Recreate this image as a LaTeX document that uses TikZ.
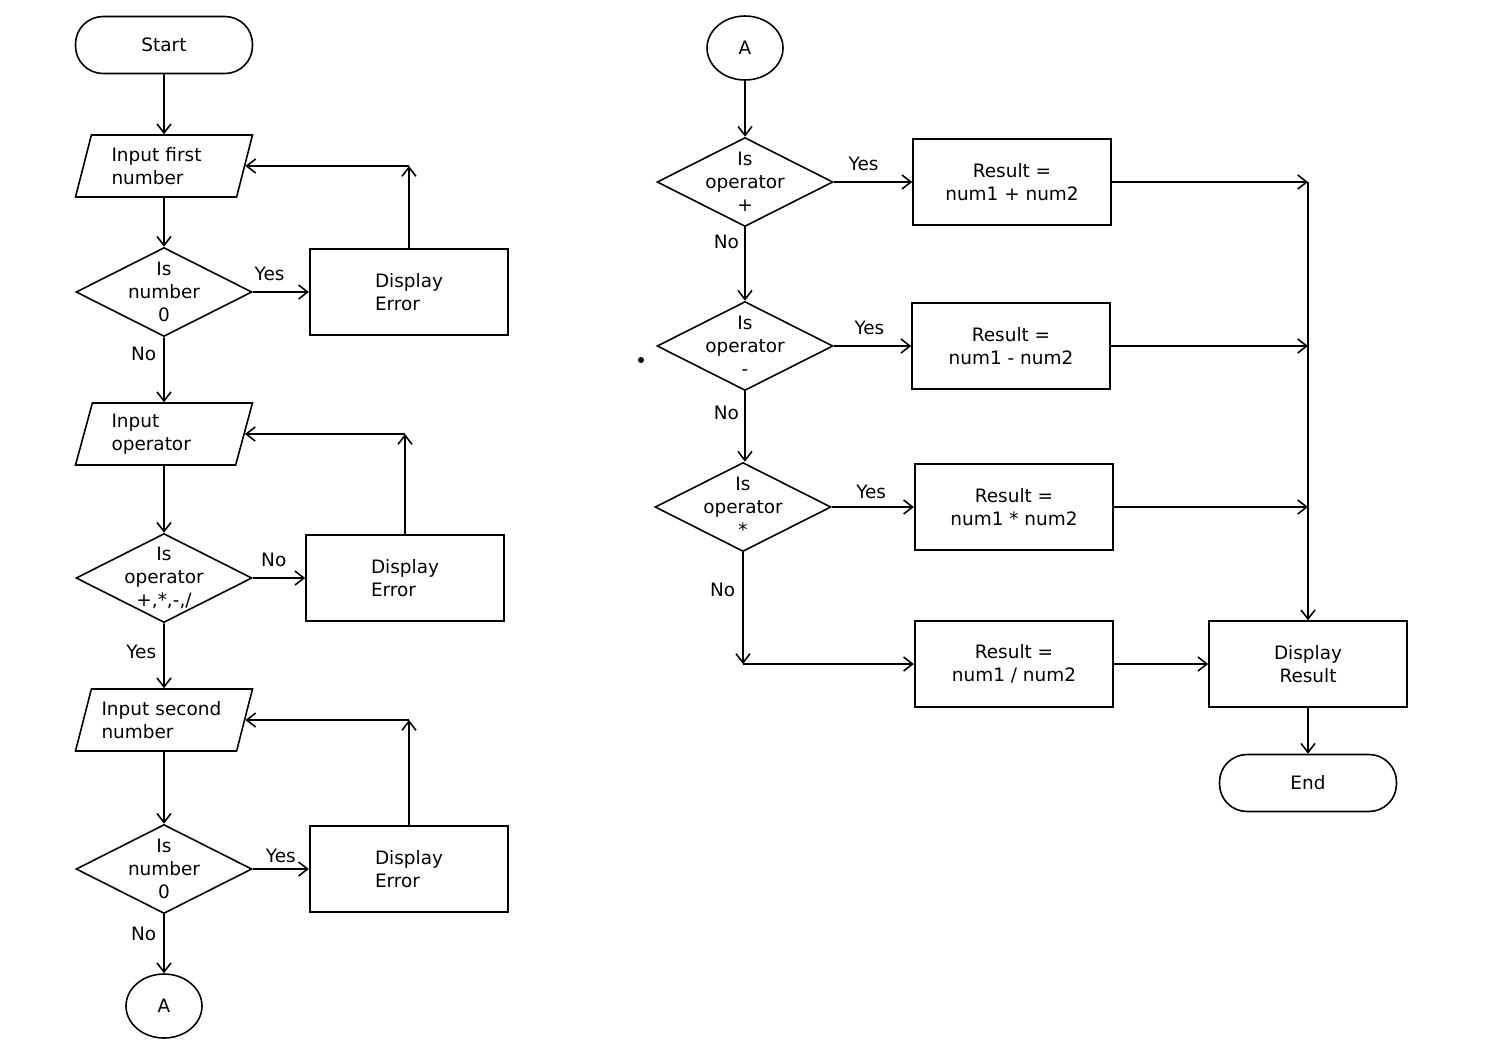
\documentclass[tikz,border=0pt]{standalone}
\usepackage{fontspec}
\setmainfont{DejaVu Sans}
\usetikzlibrary{shapes.geometric, arrows.meta}
\tikzstyle{chart} = [x = 0.02cm, y = -0.02cm]
\tikzstyle{flowText} = [font=\fontsize{10.5}{13}\selectfont]
\tikzstyle{terminalStyle} = [draw, line width=0.9pt, rectangle, rounded corners=.55cm, minimum width=3.54cm, minimum height=1.14cm, flowText]
\tikzstyle{connectorStyle} = [draw, line width=0.9pt, ellipse, minimum width=1.52cm, minimum height=1.28cm, flowText]
\tikzstyle{ioStyle} = [draw, line width=0.9pt, trapezium, trapezium left angle=72, trapezium right angle=108, trapezium stretches body, minimum width=3.54cm, minimum height=1.24cm, text width=2.5cm, align=left, flowText]
\tikzstyle{decisionStyle} = [draw, line width=0.9pt, diamond, minimum width=3.52cm, minimum height=1.78cm, inner sep=0pt]
\tikzstyle{processStyle} = [draw, line width=0.9pt, rectangle, minimum width=3.96cm, minimum height=1.72cm, align=center, flowText]
\tikzstyle{boldProcess} = [processStyle, line width=1.3pt]
\tikzstyle{flowLine} = [draw, line width=0.9pt]
\tikzstyle{flowArrow} = [flowLine, -{Straight Barb[length=1.8mm, width=2.8mm]}]
\tikzstyle{flowLabel} = [flowText, inner sep=1pt]
\newcommand{\decisionNode}[3]{\node [decisionStyle, label={[flowText, align=center]center:{#3}}] (#1) at (#2) {};}
\newcommand{\backLoop}[3]{
  \coordinate (#3) at (#1.north |- #2.east);
  \draw [flowArrow] (#1.north) -- (#3);
  \draw [flowArrow] (#3) -- (#2.east);
}
\begin{document}
\begin{tikzpicture}[chart]
\useasboundingbox (0,0) rectangle (1500,1063);
% left column: reading the input
\node [terminalStyle] (startNode) at (164,45) {Start};
\node [ioStyle] (inputFirst) at (164,166) {\hspace{.2cm}Input first\\\hspace{.2cm}number};
\decisionNode{isZeroOne}{164,292}{Is\\number\\0}
\node [boldProcess, align=left] (errorOne) at (409,292) {Display\\Error};
\node [ioStyle] (inputOperator) at (164,434) {\hspace{.2cm}Input\\\hspace{.2cm}operator};
\decisionNode{isValidOp}{164,578}{Is\\operator\\+,*,-,/}
\node [processStyle, align=left] (errorTwo) at (405,578) {Display\\Error};
\node [ioStyle] (inputSecond) at (164,720) {Input second\\number};
\decisionNode{isZeroTwo}{164,869}{Is\\number\\0}
\node [boldProcess, align=left] (errorThree) at (409,869) {Display\\Error};
\node [connectorStyle] (jumpOut) at (164,1006) {A};

\draw [flowArrow] (startNode) -- (inputFirst);
\draw [flowArrow] (inputFirst) -- (isZeroOne);
\draw [flowArrow] (isZeroOne.east) -- node [flowLabel, pos=.3, above=5pt] {Yes} (errorOne.west);
\backLoop{errorOne}{inputFirst}{turnOne}
\draw [flowArrow] (isZeroOne.south) -- node [flowLabel, pos=.26, left=3pt] {No} (inputOperator.north);
\draw [flowArrow] (inputOperator) -- (isValidOp);
\draw [flowArrow] (isValidOp.east) -- node [flowLabel, pos=.4, above=5pt] {No} (errorTwo.west);
\backLoop{errorTwo}{inputOperator}{turnTwo}
\draw [flowArrow] (isValidOp.south) -- node [flowLabel, pos=.44, left=3pt] {Yes} (inputSecond.north);
\draw [flowArrow] (inputSecond) -- (isZeroTwo);
\draw [flowArrow] (isZeroTwo.east) -- node [flowLabel, pos=.5, above=2pt] {Yes} (errorThree.west);
\backLoop{errorThree}{inputSecond}{turnThree}
\draw [flowArrow] (isZeroTwo.south) -- node [flowLabel, pos=.34, left=3pt] {No} (jumpOut.north);

% right column: choosing the operation
\node [connectorStyle] (jumpIn) at (745,48) {A};
\decisionNode{isPlus}{745,182}{Is\\operator\\+}
\node [processStyle] (resultPlus) at (1012,182) {Result =\\num1 + num2};
\decisionNode{isMinus}{745,346}{Is\\operator\\-}
\node [processStyle] (resultMinus) at (1011,346) {Result =\\num1 - num2};
\decisionNode{isTimes}{743,507}{Is\\operator\\*}
\node [boldProcess] (resultTimes) at (1014,507) {Result =\\num1 * num2};
\node [boldProcess] (resultDivide) at (1014,664) {Result =\\num1 / num2};
\node [processStyle] (displayResult) at (1308,664) {Display\\Result};
\node [terminalStyle] (endNode) at (1308,783) {End};

\draw [flowArrow] (jumpIn) -- (isPlus);
\draw [flowArrow] (isPlus.east) -- node [flowLabel, pos=.38, above=5pt] {Yes} (resultPlus.west);
\draw [flowArrow] (isPlus.south) -- node [flowLabel, pos=.2, left=2pt] {No} (isMinus.north);
\draw [flowArrow] (isMinus.east) -- node [flowLabel, pos=.46, above=5pt] {Yes} (resultMinus.west);
\draw [flowArrow] (isMinus.south) -- node [flowLabel, pos=.3, left=2pt] {No} (isTimes.north -| isMinus.south);
\draw [flowArrow] (isTimes.east) -- node [flowLabel, pos=.48, above=3pt] {Yes} (resultTimes.west);
\coordinate (turnDivide) at (isTimes.south |- resultDivide.west);
\draw [flowArrow] (isTimes.south) -- node [flowLabel, pos=.34, left=3pt] {No} (turnDivide);
\draw [flowArrow] (turnDivide) -- (resultDivide.west);

\coordinate (mergePlus) at (displayResult.north |- resultPlus.east);
\coordinate (mergeMinus) at (displayResult.north |- resultMinus.east);
\coordinate (mergeTimes) at (displayResult.north |- resultTimes.east);
\draw [flowArrow] (resultPlus.east) -- (mergePlus);
\draw [flowArrow] (resultMinus.east) -- (mergeMinus);
\draw [flowArrow] (resultTimes.east) -- (mergeTimes);
\draw [flowArrow] (mergePlus) -- (displayResult.north);
\draw [flowArrow] (resultDivide.east) -- (displayResult.west);
\draw [flowArrow] (displayResult.south) -- (endNode.north);
\fill (641,360) circle (.06cm);
\end{tikzpicture}
\end{document}
